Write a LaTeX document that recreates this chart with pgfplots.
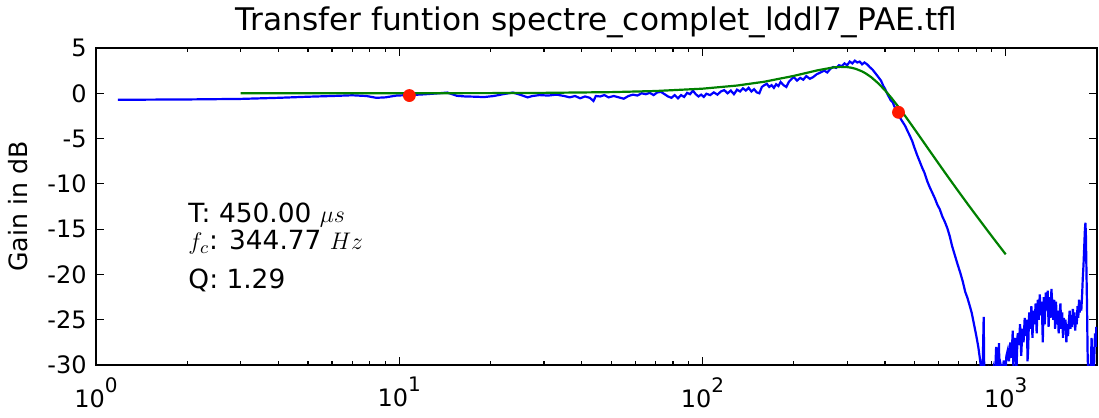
\documentclass[border=0pt]{standalone}
\usepackage{pgfplots}
\pgfplotsset{compat=1.18}
\usepackage{fontspec}
\setmainfont{DejaVu Sans}
\definecolor{mblue}{rgb}{0,0,1}
\definecolor{mgreen}{rgb}{0,0.5,0}
\definecolor{mred}{rgb}{1,0.1,0}
\newcommand{\tp}[1]{10\raisebox{0.62em}{\fontsize{10}{10}\selectfont #1}}
\begin{document}
\begin{tikzpicture}
\begin{axis}[
  at={(0,0)}, anchor=south west,
  scale only axis, width=500.5pt, height=158.5pt,
  xmode=log, xmin=1, xmax=2000, ymin=-30, ymax=5,
  xtick={1,10,100,1000}, xticklabels={\tp{0},\tp{1},\tp{2},\tp{3}},
  ytick={-30,-25,-20,-15,-10,-5,0,5},
  yticklabels={-30,-25,-20,-15,-10,-5,0,5},
  tick align=inside, major tick length=4pt, minor tick length=2pt,
  every tick/.style={black, line width=0.6pt},
  axis line style={line width=1pt},
  ticklabel style={font=\fontsize{12}{14}\selectfont, inner sep=0pt},
  xticklabel style={anchor=north, yshift=-6pt},
  yticklabel style={anchor=east, xshift=-4.5pt},
  title={Transfer funtion spectre\_complet\_lddl7\_PAE.tfl},
  every axis title shift=0pt,
  title style={at={(axis description cs:0.5,1)}, anchor=base, yshift=9pt, font=\fontsize{15.6}{18}\selectfont, inner sep=0pt},
  ylabel={Gain in dB},
  ylabel style={at={(axis description cs:-0.068,0.5)}, anchor=base, rotate=0, font=\fontsize{12.6}{14}\selectfont, inner sep=0pt},
  clip=true,
]
\addplot[mblue, line width=1.1pt] coordinates {
(1.18,-0.72) (1.5,-0.70) (2,-0.68) (3,-0.62) (4,-0.5) (5,-0.38) (6,-0.3) (7,-0.22)
(7.8,-0.3) (8.4,-0.5) (9.0,-0.45) (9.8,-0.25) (10.8,-0.2) (12,-0.12) (13.5,0.0)
(14.4,0.08) (15.5,-0.28) (16.5,-0.35) (18,-0.38) (19,-0.42) (20.5,-0.3) (22,-0.1)
(23.7,0.08) (25,-0.15) (26.5,-0.45) (27.5,-0.3) (29,-0.2) (31,-0.25) (33,-0.15)
(35,-0.3) (36.5,-0.45) (38,-0.3) (39.5,-0.55) (41,-0.35) (42.5,-0.5) (43.7,-0.85)
(44.5,-0.3) (46,-0.35) (47.5,-0.2) (49,-0.45) (51,-0.3) (53,-0.45) (55,-0.6)
(57,-0.3) (59,-0.15) (61,-0.25) (63,0.0) (65,-0.1) (67,0.05) (69,-0.2) (71,0.1)
(73,0.15) (75,-0.1) (77,-0.35) (79,-0.5) (81,-0.2) (83,-0.55) (85,-0.2) (87,-0.4)
(89,0.05) (91,-0.1) (93,0.3) (95,-0.1) (97,-0.35) (99,-0.15) (101,-0.4) (103,-0.05)
(106,-0.2) (109,0.1) (112,-0.15) (115,0.2) (118,0.35) (121,0.0) (124,0.3) (127,-0.1)
(130,0.4) (133,0.2) (136,0.55) (139,0.3) (142,0.6) (145,0.2) (148,0.45) (151,0.1)
(154,0.0) (157,0.7) (160,0.9) (163,1.05) (166,0.7) (169,0.9) (172,0.6) (175,1.0)
(178,0.8) (181,1.25) (185,0.9) (189,0.7) (193,1.3) (197,1.6) (200,1.8) (205,1.4)
(210,1.7) (215,1.5) (220,1.9) (226,1.6) (232,1.8) (238,2.1) (245,2.3) (252,2.5)
(258,2.3) (264,2.7) (270,2.9) (276,2.8) (282,3.1) (288,3.0) (294,3.3) (300,3.1)
(306,3.5) (312,3.3) (318,3.6) (324,3.4) (330,3.5) (336,3.2) (342,3.4) (349,3.2)
(356,2.9) (364,2.6) (372,2.2) (380,1.8) (388,1.4) (395,0.8) (400,0.5) (406,0.0)
(412,-0.4) (418,-0.8) (424,-1.0) (430,-1.5) (437,-1.9) (443,-2.2) (450,-2.8)
(458,-3.2) (466,-3.6) (475,-4.2) (483,-4.7) (492,-5.3) (500,-6.0) (510,-6.8)
(520,-7.5) (530,-8.2) (540,-8.8) (551,-9.7) (562,-10.4) (573,-11.0) (584,-11.6)
(595,-12.3) (606,-12.8) (618,-13.6) (630,-14.2) (642,-14.9) (654,-15.8) (666,-16.9)
(680,-17.9) (694,-18.9) (708,-19.8) (722,-20.8) (735,-21.9) (748,-22.6) (760,-23.4)
(772,-24.2) (787,-25.6) (800,-26.8) (812,-28.0) (822,-29.3) (830,-30.5) (838,-31.5)
(846,-24.7) (850,-31.5) (860,-32) (870,-33) (880,-31) (890,-32) (900,-31.5)
(910,-30.5) (920,-32) (930,-28) (940,-33) (950,-27.6) (955,-32) (965,-30.2)
(975,-31) (985,-29.5) (995,-32) (1005,-29) (1015,-28.4) (1025,-29.6) (1035,-27.5)
(1045,-29.2) (1055,-26.2) (1060,-30.2) (1065,-28.8) (1075,-27.0) (1085,-30.5) (1095,-26.5)
(1105,-27.8) (1115,-25.5) (1125,-29.0) (1135,-26.0) (1145,-27.5) (1155,-24.8)
(1165,-26.8) (1175,-25.0) (1180,-29.6) (1185,-28.5) (1195,-24.2) (1205,-26.0) (1215,-23.5)
(1225,-27.0) (1235,-24.0) (1245,-25.5) (1255,-23.2) (1265,-26.5) (1275,-22.8)
(1285,-25.0) (1295,-22.2) (1305,-24.5) (1315,-23.0) (1325,-27.5) (1335,-22.5)
(1345,-25.5) (1355,-22.0) (1365,-24.0) (1375,-21.8) (1385,-25.8) (1395,-22.5)
(1405,-24.8) (1415,-21.6) (1425,-23.5) (1435,-25.0) (1445,-22.8) (1455,-26.0)
(1465,-23.0) (1475,-25.5) (1485,-24.0) (1495,-26.5) (1505,-24.5) (1515,-23.2)
(1525,-26.0) (1535,-24.2) (1545,-27.0) (1555,-24.8) (1565,-26.2) (1575,-25.0)
(1585,-27.5) (1595,-25.5) (1605,-26.8) (1615,-25.2) (1625,-24.0) (1635,-26.0)
(1645,-24.5) (1655,-25.8) (1665,-23.8) (1675,-25.5) (1685,-24.2) (1695,-26.2)
(1705,-24.6) (1715,-25.5) (1725,-23.5) (1735,-24.8) (1745,-22.8) (1755,-24.2)
(1765,-23.0) (1775,-24.0) (1785,-22.5) (1795,-20.5) (1805,-19.0) (1815,-17.0)
(1825,-15.0) (1832,-14.3) (1838,-15.5) (1845,-19.0) (1855,-24.0) (1862,-28.5)
(1870,-31.0) (1880,-33) (1890,-31) (1900,-32) (1910,-29.5) (1920,-27.0)
(1930,-30.5) (1940,-28.0) (1950,-31.5) (1960,-29.0) (1970,-26.5) (1980,-28.0)
(1990,-25.8) (2000,-26.5)
};
\addplot[mgreen, line width=1.1pt] coordinates {
(3,0.0) (5,0.001) (10,0.005) (20,0.020) (30,0.046) (50,0.128) (70,0.250)
(100,0.509) (130,0.855) (160,1.278) (200,1.921) (240,2.542) (270,2.856)
(285,2.917) (300,2.891) (310,2.819) (320,2.701) (335,2.437) (345,2.206)
(360,1.783) (380,1.100) (400,0.322) (420,-0.516) (440,-1.380) (460,-2.249)
(480,-3.107) (500,-3.946) (530,-5.156) (560,-6.303) (600,-7.734) (630,-8.738)
(670,-9.991) (700,-10.873) (750,-12.246) (800,-13.513) (850,-14.689)
(900,-15.787) (950,-16.815) (1000,-17.782)
};
\addplot[only marks, mark=*, mark size=3pt, mred, mark options={draw=none, fill=mred}] coordinates {
(10.8,-0.25) (443,-2.1)
};
\node[anchor=base west, inner sep=0pt, font=\fontsize{13.2}{15}\selectfont] at (rel axis cs:0.092,0.450) {T: 450.00 $\mu s$};
\node[anchor=base west, inner sep=0pt, font=\fontsize{13.2}{15}\selectfont] at (rel axis cs:0.092,0.363) {$f_c$: 344.77 $Hz$};
\node[anchor=base west, inner sep=0pt, font=\fontsize{13.2}{15}\selectfont] at (rel axis cs:0.092,0.242) {Q: 1.29};
\end{axis}
\pgfresetboundingbox
\path[use as bounding box] (-48pt,-26.5pt) rectangle (501.5pt,182.5pt);
\end{tikzpicture}
\end{document}
